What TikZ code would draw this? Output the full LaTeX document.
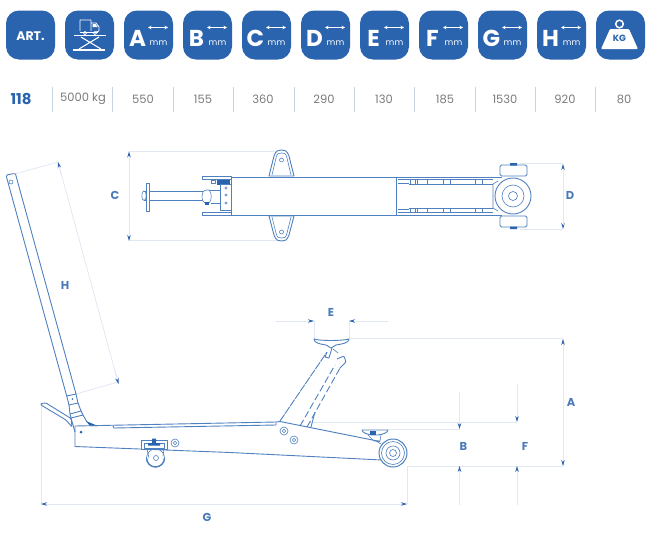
\documentclass[tikz,border=0pt]{standalone}
\usepackage{fontspec}
\setmainfont{Poppins}
\usetikzlibrary{arrows.meta}
\definecolor{iconblue}{HTML}{2A63AE}
\definecolor{linkblue}{HTML}{4F80BF}
\definecolor{extline}{HTML}{E1E8F3}
\definecolor{divider}{HTML}{C6D4E2}
\definecolor{valgray}{HTML}{7A7A7A}
\tikzset{
  iconbox/.style={fill=iconblue,rounded corners=13pt,minimum size=49pt,inner sep=0pt,draw=none},
  iconlet/.style={text=white,font=\fontsize{23}{23}\selectfont\bfseries,inner sep=0pt},
  iconmm/.style={text=white,font=\fontsize{8.5}{8.5}\selectfont,inner sep=0pt},
  iconarrow/.style={white,line width=0.9pt,{Stealth[length=3.5pt,width=3.5pt]}-{Stealth[length=3.5pt,width=3.5pt]}},
  valtext/.style={text=valgray,font=\fontsize{11.5}{12}\selectfont,inner sep=0pt},
  arttext/.style={text=iconblue,font=\fontsize{15}{15}\selectfont\bfseries,inner sep=0pt},
  divline/.style={divider,line width=0.9pt},
  part/.style={linkblue,line width=0.9pt,line join=round},
  thinpart/.style={linkblue,line width=0.6pt,line join=round},
  ext/.style={extline,line width=0.8pt},
  dimend/.style={extline,line width=0.8pt,-{Stealth[length=6pt,width=3.5pt,color=iconblue]}},
  dimlabel/.style={text=iconblue!85!white,font=\fontsize{11.5}{11.5}\selectfont\bfseries,inner sep=0pt},
}
\begin{document}
\begin{tikzpicture}[x=1pt,y=-1pt]
\useasboundingbox (0,0) rectangle (659,538);
% ---------- icons ----------
\node[iconbox] (artbox) at (30.5,35) {};
\node[text=white,font=\fontsize{12.5}{13}\selectfont\bfseries,inner sep=0pt] (arttitle) at (30.5,36.5) {ART.};
\node[iconbox] (liftbox) at (89.5,35) {};
\foreach \x/\l in {124/A,183/B,242/C,301/D,360/E,419/F,478/G,537/H}{
  \node[iconbox] (box\l) at (\x+24.5,35) {};
  \node[iconlet] (let\l) at (\x+13.5,38) {\l};
  \node[iconmm] (mm\l) at (\x+34.5,43) {mm};
  \draw[iconarrow] (\x+24,27.5) -- (\x+44,27.5);
}
\node[iconbox] (kgbox) at (620.5,35) {};
% truck & scissor lift
\draw[white,line width=0.8pt,line join=round] (80,31) -- (80,20) -- (91,20) -- (91,31) (91,23) -- (96,23) -- (99,27) -- (99,31) -- (96,32);
\fill[white] (92.5,24) -- (95.5,24) -- (97.5,27) -- (92.5,27) -- cycle;
\draw[white,line width=0.8pt] (80,32) -- (98,32);
\draw[white,line width=0.7pt] (85,33) circle (1.6) (95,33) circle (1.6);
\draw[white,line width=1.3pt] (74,35.5) -- (106,35.5);
\draw[white,line width=1.1pt] (81,37) -- (101,49) (99,37) -- (79,49);
\draw[white,line width=1.3pt] (73,50) -- (105,50);
% kg weight
\draw[white,line width=1.5pt] (619.5,24) circle (3.8);
\fill[white,rounded corners=1pt] (610,29) -- (629,29) -- (638,49) -- (601,49) -- cycle;
\node[text=iconblue,font=\fontsize{9}{9}\selectfont\bfseries,inner sep=0pt] (kgtext) at (619.5,38.5) {KG};
% ---------- values ----------
\node[arttext] (v118) at (21,99) {118};
\foreach \x/\t in {83/5000 kg,143/550,203/155,263/360,324/290,384/130,445/185,505/1530,565/920,624/80}{
  \node[valtext] (v\x) at (\x,99) {\t};
}
\foreach \x in {52,112.5,173,233,294,354,414,475,535,595}{
  \draw[divline] (\x,87) -- (\x,112);
}
% ---------- dimension lines ----------
\draw[ext] (129,151.5) -- (277,151.5) (129,240.5) -- (277,240.5);
\draw[dimend] (129,165) -- (129,151.5);
\draw[dimend] (129,228) -- (129,241);
\draw[ext] (129,160) -- (129,235);
\node[dimlabel] (labC) at (115,195) {C};
\draw[ext] (520,163) -- (563,163) (520,229) -- (563,229);
\draw[dimend] (563,175) -- (563,164);
\draw[dimend] (563,218) -- (563,229);
\draw[ext] (563,170) -- (563,225);
\node[dimlabel] (labD) at (570,195) {D};
% H
\draw[ext] (15,174) -- (58,162) (76,394) -- (118,382);
\draw[ext] (58,162) -- (118,382);
\draw[dimend] (61,174) -- (58,162);
\draw[dimend] (115,371) -- (118.5,384);
\node[dimlabel] (labH) at (65,285) {H};
% E
\draw[ext] (314,321) -- (314,339) (349,321) -- (349,339);
\draw[dimend] (276,321) -- (314,321);
\draw[dimend] (388,321) -- (349,321);
\node[dimlabel] (labE) at (331,312) {E};
% A
\draw[ext] (349,338.5) -- (563,338.5) (407,466) -- (563,466);
\draw[ext] (563,338.5) -- (563,466);
\draw[dimend] (563,350) -- (563,339);
\draw[dimend] (563,455) -- (563,466);
\node[dimlabel] (labA) at (571,402) {A};
% F
\draw[ext] (310,422) -- (517,422);
\draw[dimend] (517,384) -- (517,422);
\draw[dimend] (517,505) -- (517,466);
\node[dimlabel] (labF) at (525,446) {F};
% B
\draw[ext] (388,429) -- (460,429);
\draw[dimend] (459.5,392) -- (459.5,429);
\draw[dimend] (459.5,505) -- (459.5,466);
\node[dimlabel] (labB) at (463.5,446) {B};
% G
\draw[ext] (41,404) -- (41,504) (407,466) -- (407,504);
\draw[ext] (41,504) -- (407,504);
\draw[dimend] (55,504) -- (41,504);
\draw[dimend] (393,504) -- (407,504);
\node[dimlabel] (labG) at (207,517) {G};
% ---------- top view ----------
% brackets
\draw[part] (269,176) -- (274,156) .. controls (276,150) and (279,150) .. (281.5,150) .. controls (284,150) and (287,150) .. (289,156) -- (294,176) -- cycle;
\draw[thinpart] (272,175) -- (276,158) .. controls (277,153) and (279,153) .. (281.5,153) .. controls (284,153) and (286,153) .. (287,158) -- (291,175);
\draw[thinpart] (281.5,160) circle (2);
\draw[part] (269,216) -- (274,235) .. controls (276,241) and (279,241) .. (281.5,241) .. controls (284,241) and (287,241) .. (289,235) -- (294,216) -- cycle;
\draw[thinpart] (272,217) -- (276,233) .. controls (277,238) and (279,238) .. (281.5,238) .. controls (284,238) and (286,238) .. (287,233) -- (291,217);
\draw[thinpart] (281.5,232) circle (2);
% body
\draw[part] (231,177) rectangle (396,215);
% left rails
\draw[thinpart] (202.5,176.5) rectangle (231,179.5) (202.5,212.5) rectangle (231,215.5);
\fill[iconblue] (217,180) rectangle (230,184.5);
\draw[thinpart] (211,180) rectangle (215,183);
% rod
\draw[thinpart] (144,191) -- (205,191) (144,200.5) -- (205,200.5);
\draw[thinpart] (144,195.7) ellipse (2.2 and 4.8);
\draw[thinpart,fill=white] (146.5,183) rectangle (149.5,211.5);
\draw[thinpart,fill=white] (207,190) .. controls (203,190) and (202,193) .. (202,196) .. controls (202,200) and (203,203) .. (207,203) -- (209,203) .. controls (212,201) and (212,192) .. (209,190) -- cycle;
\fill[iconblue] (205,202) rectangle (209,204.5);
\draw[thinpart] (209,190) -- (220,190) (211,203) -- (220,203) (220,184) -- (220,210) -- (231,210) (220,184) -- (231,184);
\draw[thinpart] (226,188) circle (1.2) (226,195) circle (1.2) (226,203) circle (1.2);
% right rails
\draw[part] (396,177) -- (502,177) (396,215) -- (502,215);
\draw[thinpart] (398,179.5) -- (493,179.5) (409,184) -- (493,184) (398,212.5) -- (493,212.5) (409,208) -- (493,208);
\foreach \x in {410,415,417,427,443,450,475,482}{
  \draw[thinpart] (\x,179.5) -- (\x,184) (\x,208) -- (\x,212.5);
}
\draw[thinpart] (398,183) -- (409,183) (398,209) -- (409,209);
\draw[thinpart] (493,184) -- (493,208) (493,184) -- (498,181) (493,208) -- (498,211);
% side wheels
\draw[part,rounded corners=1.5pt] (500,165) rectangle (527,176);
\draw[part,rounded corners=1.5pt] (500,216) rectangle (527,227);
\fill[iconblue] (510,163) rectangle (517,165.5) (510,226.5) rectangle (517,229);
% front wheel
\draw[part,fill=white] (513,196) circle (18);
\draw[thinpart] (513,196) circle (11);
\draw[thinpart] (513,196) circle (4.5);
% ---------- side view ----------
% handle
\draw[part] (6.5,177) -- (66.7,396) (15.5,174) -- (76,394);
\draw[part,rounded corners=1pt] (6.5,177) -- (6.5,175) -- (14,173.5) -- (15.5,174);
\draw[thinpart] (11,182) circle (2);
\draw[part] (66.7,396) -- (76,394) -- (78,403) -- (69,405) -- cycle;
\fill[iconblue] (72.5,399) circle (0.8);
\draw[part] (70,414) -- (81,411) -- (83,415) -- (71,418) -- cycle;
\draw[part] (69,405) -- (70,414) (78,403) -- (81,411);
\draw[part] (71,418) -- (75,432) (83,415) -- (87,422);
\fill[iconblue] (86,421) -- (98,426) -- (90,426) -- cycle;
% pedal
\draw[part,rounded corners=1pt] (41,403.5) -- (46,403) -- (71,418.5) -- (72,427) -- (66,420) -- (41,405) -- cycle;
% body
\draw[part] (75,426) -- (276,422) -- (280,421.5) -- (380,441.5);
\draw[part] (75,426) -- (75,446.5) -- (230,452.5) -- (382,460);
\draw[part] (113,426) -- (114,428) -- (276,425) -- (276,422);
\fill[iconblue] (81,432) circle (1.5);
% caster
\draw[thinpart] (155.5,458) circle (9);
\draw[line width=1.4pt,linkblue] (164.5,458) arc[start angle=0,end angle=180,radius=9];
\draw[thinpart] (147,449) -- (149,458) (164,449) -- (163,456);
\draw[thinpart] (156,458) circle (2.5);
\draw[thinpart,fill=white] (141,440) rectangle (167,449);
\draw[thinpart] (144,443) rectangle (164,448);
\fill[iconblue] (148,443) rectangle (160,445.5) (152,438.5) rectangle (156,443);
% pins
\foreach \cx/\cy in {175/443,284/431,294/440}{
  \draw[thinpart] (\cx,\cy) circle (4);
  \draw[thinpart] (\cx,\cy) circle (1.8);
}
% arm
\draw[part,dash pattern=on 8pt off 1pt] (280,421) -- (327,352);
\draw[part,dash pattern=on 7pt off 3pt] (300,426) -- (335,365);
\draw[part,dash pattern=on 7pt off 3pt] (307,427) -- (340,368);
\draw[part] (311,427) -- (315,412);
% arm head
\draw[part,rounded corners=1pt] (337,359) -- (344,356) -- (346,362) -- (340,368);
\draw[part] (327,352) -- (325,357) -- (329,358) -- (332,348);
\draw[thinpart] (333,349) -- (338,353);
% saddle
\draw[part,fill=white] (314,339) .. controls (314,343) and (320,344) .. (326,345) .. controls (328,346) and (329,347) .. (331,348) .. controls (333,347) and (334,346) .. (336,345) .. controls (342,344) and (349,343) .. (349,339) .. controls (342,341) and (320,341) .. (314,339) -- cycle;
% front saddle
\draw[part] (362,430) .. controls (363,433) and (366,434) .. (372,435) -- (378,435) .. controls (384,434) and (387,433) .. (388,430) -- cycle;
\fill[iconblue] (370,431) rectangle (376,435);
\draw[thinpart] (368,435) -- (374,441) -- (380,441) -- (381,435) (376,441) -- (381,444);
% big wheel
\draw[line width=1pt,linkblue,fill=white] (393,453) circle (14);
\draw[thinpart] (393,453) circle (11.5);
\draw[thinpart] (393,453) circle (7);
\draw[thinpart] (393,453) circle (3.5);
\end{tikzpicture}
\end{document}
